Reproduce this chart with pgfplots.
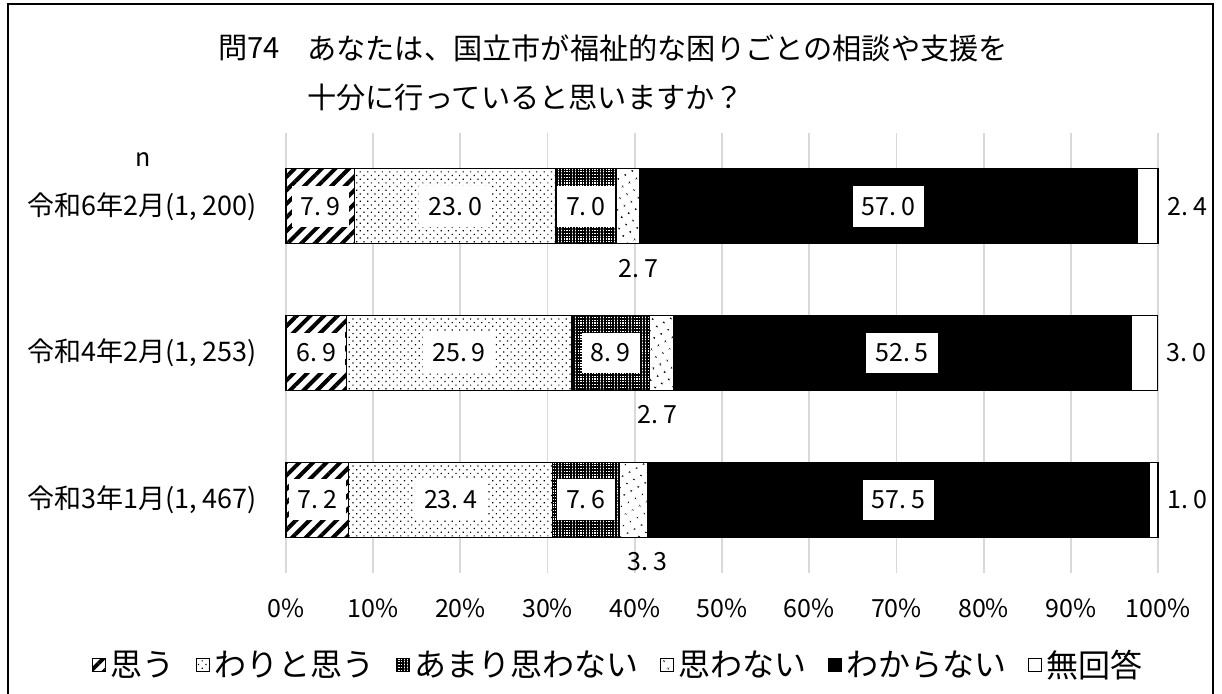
\documentclass[border=0pt]{standalone}
\usepackage{fontspec}
\setmainfont{Noto Sans CJK JP}
\usepackage{pgfplots}
\pgfplotsset{compat=1.18}
\usepackage{pgfplotstable}
\usetikzlibrary{patterns.meta}

\definecolor{gridgray}{RGB}{217,217,217}
\newcommand\fs{\fontsize{12.5pt}{15pt}\selectfont}

% answer shares (%) per survey, y=0 is the oldest; dx nudges the label under the bar
\pgfplotstableread{
y  omou warito amari omowa wakara muka dx
0  7.2  23.4   7.6   3.3   57.5   1.0  7
1  6.9  25.9   8.9   2.7   52.5   3.0  -2
2  7.9  23.0   7.0   2.7   57.0   2.4  5
}\answers

\pgfplotsset{
  sqleg/.style={legend image code/.code={\draw[##1,line width=0.4pt] (0pt,-3.3pt) rectangle (6.6pt,3.3pt);}},
  vallabel/.style={nodes near coords={\pgfmathprintnumber[fixed,fixed zerofill,precision=1]{\pgfplotspointmeta}},
    point meta=explicit},
  % stacked labels already sit in the middle of their segment
  midlabel/.style={vallabel,
    every node near coord/.append style={anchor=center, fill=white, inner xsep=4.5pt, inner ysep=5.5pt}},
  belowlabel/.style={vallabel, visualization depends on={\thisrow{dx}\as\dx},
    every node near coord/.append style={anchor=north, inner sep=0pt, yshift=-26pt, xshift=\dx pt}},
  rightlabel/.style={vallabel, visualization depends on={\thisrow{#1}\as\rawx},
    every node near coord/.append style={anchor=west, inner sep=0pt, xshift=4.5pt,
      shift={(axis direction cs:\rawx/2,0)}}},
  segment/.style={draw=black, line width=0.6pt, sqleg},
}

\begin{document}
\begin{tikzpicture}
\begin{axis}[
  scale only axis, width=436pt, height=220pt,
  xbar stacked, bar width=37.5pt,
  xmin=0, xmax=100, ymin=-0.5, ymax=2.5,
  xtick={0,10,...,100},
  xticklabel={\pgfmathprintnumber{\tick}\%},
  ytick={0,1,2},
  yticklabels={{令和3年1月(1,\hspace{0.2em}467)},{令和4年2月(1,\hspace{0.2em}253)},{令和6年2月(1,\hspace{0.2em}200)}},
  xmajorgrids, major grid style={gridgray, line width=0.9pt},
  axis line style={draw=none},
  major tick length=0pt,
  tick label style={font=\fs},
  xticklabel style={yshift=-9.5pt},
  yticklabel style={xshift=-11pt, font=\fontsize{13.5pt}{16pt}\selectfont},
  clip=false,
  /pgf/number format/assume math mode=true,
  /pgf/number format/dec sep={.\hspace{0.2em}},
  every node near coord/.append style={font=\fs},
  legend style={at={(0.382,-0.209)}, anchor=center, draw=none, fill=none,
    font=\fontsize{16pt}{19pt}\selectfont, inner sep=0pt,
    /tikz/every even column/.append style={column sep=9pt}},
  legend columns=-1,
]
\addplot[segment, fill=white, postaction={pattern={Lines[angle=45,distance=4.8pt,line width=2pt]}},
  midlabel] table[x=omou,y=y,meta=omou]{\answers};
\addplot[segment, fill=white, postaction={pattern={Dots[angle=45,distance=2.6pt,radius=0.42pt]}},
  midlabel] table[x=warito,y=y,meta=warito]{\answers};
\addplot[segment, fill=white, postaction={pattern={Hatch[angle=0,distance=1.4pt,line width=0.8pt]}},
  midlabel] table[x=amari,y=y,meta=amari]{\answers};
\addplot[segment, fill=white, postaction={pattern={Dots[angle=30,distance=4pt,radius=0.5pt]}},
  belowlabel] table[x=omowa,y=y,meta=omowa]{\answers};
\addplot[segment, fill=black,
  midlabel] table[x=wakara,y=y,meta=wakara]{\answers};
\addplot[segment, fill=white,
  rightlabel=muka] table[x=muka,y=y,meta=muka]{\answers};
\legend{思う,わりと思う,あまり思わない,思わない,わからない,無回答}
\end{axis}
% pixel frame of the 1222x694 reference, origin top left
\begin{scope}[shift={(-143pt,286.5pt)}, x=0.5pt, y=-0.5pt]
  \useasboundingbox (0,0) rectangle (1222,694);
  \draw[line width=1pt] (8,694) -- (8,4) -- (1213,4) -- (1213,694);
  \node[anchor=west, inner sep=0pt, font=\fontsize{14.6pt}{17pt}\selectfont] at (218,48) {問74};
  \node[anchor=west, inner sep=0pt, font=\fontsize{14.6pt}{17pt}\selectfont] at (307,48)
    {あなたは、国立市が福祉的な困りごとの相談や支援を};
  \node[anchor=west, inner sep=0pt, font=\fontsize{14.6pt}{17pt}\selectfont] at (307,97)
    {十分に行っていると思いますか？};
  \node[font=\fs] at (143,160) {n};
\end{scope}
\end{tikzpicture}
\end{document}
